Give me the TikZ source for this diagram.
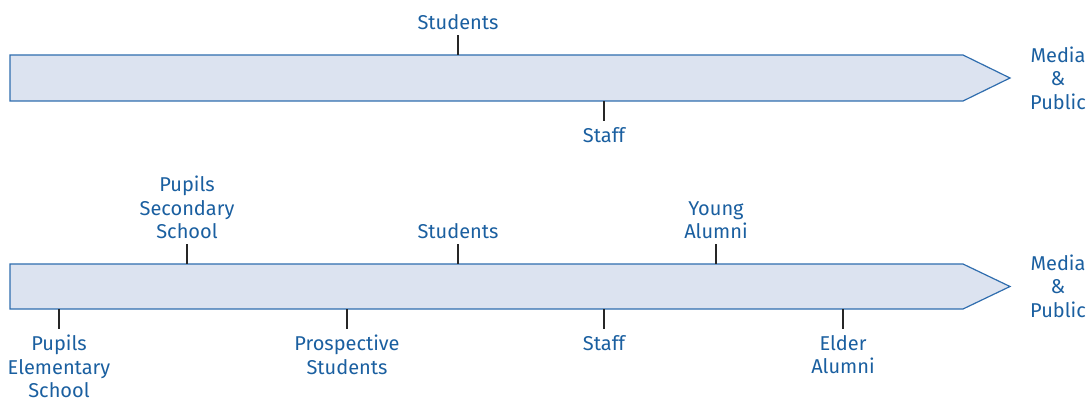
\documentclass[tikz,border=0pt]{standalone}
\usepackage{fontspec}
\setmainfont{Fira Sans}
\usetikzlibrary{positioning}
\definecolor{barfill}{HTML}{DCE3F0}
\definecolor{barline}{HTML}{2F6DAE}
\definecolor{labeltext}{HTML}{1A5FA0}
\tikzset{
    bar/.style={fill=barfill, draw=barline, line width=1.2pt, line join=miter},
    tickline/.style={line width=1.5pt, black!85},
    lbl/.style={text=labeltext, align=center, inner sep=0pt,
        font=\fontsize{20}{23.5}\selectfont},
}
\begin{document}
\begin{tikzpicture}[x=1pt, y=-1pt]
    \useasboundingbox (0,0) rectangle (1090,398);
    % upper bar
    \draw[bar] (10,55)--(963,55)--(1010,78)--(963,101)--(10,101)--cycle;
    \coordinate (ustudbar) at (458,55);
    \coordinate (ustudend) at (458,35);
    \coordinate (ustaffbar) at (604,101);
    \coordinate (ustaffend) at (604,121);
    \node[lbl, above=5pt of ustudend] (ustud) {Students};
    \node[lbl, below=6pt of ustaffend] (ustaff) {Staff};
    \node[lbl] (umedia) at (1058,78) {Media\\\&\\Public};
    \draw[tickline] (ustudbar) -- (ustudend);
    \draw[tickline] (ustaffbar) -- (ustaffend);

    % lower bar
    \draw[bar] (10,264)--(963,264)--(1010,286.5)--(963,309)--(10,309)--cycle;
    \coordinate (lsecbar) at (187,264);
    \coordinate (lsecend) at (187,244);
    \coordinate (lstudbar) at (458,264);
    \coordinate (lstudend) at (458,244);
    \coordinate (lyoungbar) at (716,264);
    \coordinate (lyoungend) at (716,244);
    \coordinate (lelembar) at (59,309);
    \coordinate (lelemend) at (59,329);
    \coordinate (lprospbar) at (347,309);
    \coordinate (lprospend) at (347,329);
    \coordinate (lstaffbar) at (604,309);
    \coordinate (lstaffend) at (604,329);
    \coordinate (lelderbar) at (843,309);
    \coordinate (lelderend) at (843,329);
    \node[lbl, above=5pt of lsecend] (lsec) {Pupils\\Secondary\\School};
    \node[lbl, above=5pt of lstudend] (lstud) {Students};
    \node[lbl, above=5pt of lyoungend] (lyoung) {Young\\Alumni};
    \node[lbl, below=6pt of lelemend] (lelem) {Pupils\\Elementary\\School};
    \node[lbl, below=6pt of lprospend] (lprosp) {Prospective\\Students};
    \node[lbl, below=6pt of lstaffend] (lstaff) {Staff};
    \node[lbl, below=6pt of lelderend] (lelder) {Elder\\Alumni};
    \node[lbl] (lmedia) at (1058,286) {Media\\\&\\Public};
    \draw[tickline] (lsecbar) -- (lsecend);
    \draw[tickline] (lstudbar) -- (lstudend);
    \draw[tickline] (lyoungbar) -- (lyoungend);
    \draw[tickline] (lelembar) -- (lelemend);
    \draw[tickline] (lprospbar) -- (lprospend);
    \draw[tickline] (lstaffbar) -- (lstaffend);
    \draw[tickline] (lelderbar) -- (lelderend);
\end{tikzpicture}
\end{document}
